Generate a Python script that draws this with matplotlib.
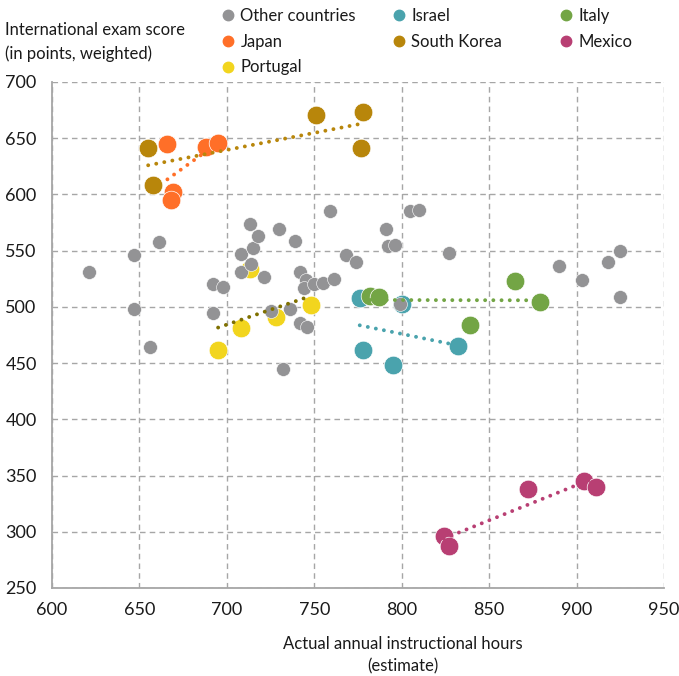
import numpy as np
import matplotlib.pyplot as plt
from matplotlib.lines import Line2D

plt.rcParams['font.family'] = ['Lato', 'DejaVu Sans']

# Other countries (hours, score)
other_x = [621, 647, 647, 656, 661, 692, 698, 692, 708, 708, 713, 715, 714, 718, 721,
           725, 730, 732, 736, 739, 742, 745, 744, 750, 755, 761, 742, 746, 759, 768,
           774, 791, 792, 796, 799, 805, 810, 827, 890, 903, 918, 925, 925]
other_y = [531, 546, 498, 464, 558, 520, 518, 495, 547, 531, 574, 552, 538, 563, 527,
           496, 569, 445, 498, 559, 531, 524, 517, 520, 521, 525, 486, 482, 585, 546,
           540, 569, 554, 555, 503, 585, 586, 548, 536, 524, 540, 550, 509]

groups = ["Israel", "Italy", "Japan", "South Korea", "Mexico", "Portugal"]
group_x = {
    "Israel": [776, 778, 795, 832, 800],
    "Italy": [782, 787, 865, 879, 839],
    "Japan": [666, 688, 695, 669, 668],
    "South Korea": [655, 658, 751, 778, 777],
    "Mexico": [824, 827, 872, 904, 911],
    "Portugal": [713, 708, 695, 728, 748],
}
group_y = {
    "Israel": [508, 462, 448, 465, 503],
    "Italy": [510, 509, 523, 504, 484],
    "Japan": [645, 642, 646, 602, 595],
    "South Korea": [641, 608, 671, 673, 641],
    "Mexico": [296, 287, 338, 345, 340],
    "Portugal": [534, 481, 462, 491, 502],
}
colors = {
    "Israel": "#4AA3AD",
    "Italy": "#73A545",
    "Japan": "#FF6F28",
    "South Korea": "#B8860B",
    "Mexico": "#B83F73",
    "Portugal": "#F2D51E",
}
trend_colors = dict(colors, Portugal="#7F7000")
gray = "#939395"

fig = plt.figure(figsize=(6.79, 6.76), dpi=100)
ax = fig.add_axes([52 / 679, 1 - 588 / 676, 612 / 679, 506 / 676])

for g in groups:
    ax.scatter(group_x[g], group_y[g], s=180, color=colors[g], edgecolor="white",
               linewidth=0.5, zorder=3)
ax.scatter(other_x, other_y, s=100, color=gray, edgecolor="white", linewidth=0.4, zorder=4)

# dotted linear trend per country
for g in groups:
    xs = np.array(group_x[g], dtype=float)
    a, b = np.polyfit(xs, group_y[g], 1)
    xx = np.array([xs.min(), xs.max()])
    ax.plot(xx, a * xx + b, color=trend_colors[g], lw=2.8,
            linestyle=(0, (0.01, 2.1)), dash_capstyle="round", zorder=5)

ax.set_xlim(600, 950)
ax.set_ylim(250, 700)
ax.set_xticks(range(600, 951, 50))
ax.set_yticks(range(250, 701, 50))
ax.grid(True, color="#A6A6A6", linestyle=(0, (4, 3)), linewidth=1.0)
ax.set_axisbelow(True)
for s in ["top", "right"]:
    ax.spines[s].set_visible(False)
for s in ["left", "bottom"]:
    ax.spines[s].set_color("#A6A6A6")
    ax.spines[s].set_linewidth(1.3)
ax.tick_params(length=0, labelsize=13, colors="#1a1a1a", pad=10)
ax.tick_params(axis="y", pad=11)

ax.set_xlabel("Actual annual instructional hours\n(estimate)", fontsize=12,
              color="#1a1a1a", linespacing=1.45)
ax.xaxis.set_label_coords((403 - 52) / 612, -0.095)
fig.text(5 / 679, 1 - 42 / 676, "International exam score\n(in points, weighted)",
         fontsize=12, color="#1a1a1a", va="center", ha="left", linespacing=1.5)

def handle(c, lab):
    return Line2D([], [], marker="o", linestyle="", markersize=7.5, color=c, label=lab)

cols = [
    [("Other countries", gray), ("Japan", colors["Japan"]), ("Portugal", colors["Portugal"])],
    [("Israel", colors["Israel"]), ("South Korea", colors["South Korea"])],
    [("Italy", colors["Italy"]), ("Mexico", colors["Mexico"])],
]
col_x = [222, 393, 560]
for cx, col in zip(col_x, cols):
    fig.legend(handles=[handle(c, l) for l, c in col], loc="upper left",
               bbox_to_anchor=(cx / 679, 1 - 8 / 676), frameon=False, fontsize=12,
               handlelength=0.7, handletextpad=0.4, labelspacing=0.58,
               borderpad=0, borderaxespad=0, labelcolor="#1a1a1a")

fig.savefig("out.png", dpi=100)
